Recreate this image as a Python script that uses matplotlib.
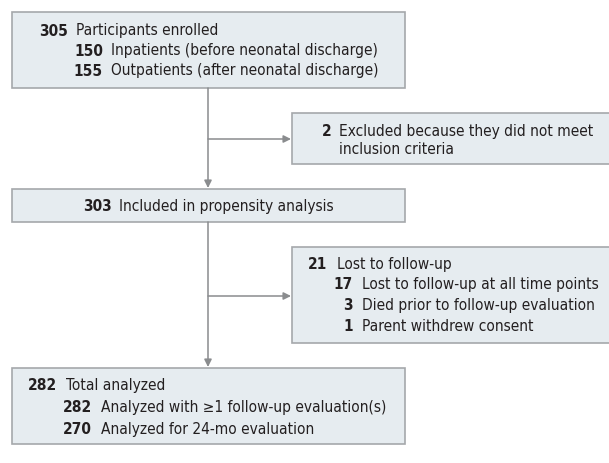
import matplotlib.pyplot as plt
from matplotlib.patches import Rectangle

# flow chart content
mainCounts= ['305', '2', '303', '21', '282']
mainLabels= ['Participants enrolled',
             'Excluded because they did not meet\ninclusion criteria',
             'Included in propensity analysis',
             'Lost to follow-up',
             'Total analyzed']
subCounts= {0: ['150', '155'],
            3: ['17', '3', '1'],
            4: ['282', '270']}
subLabels= {0: ['Inpatients (before neonatal discharge)',
                'Outpatients (after neonatal discharge)'],
            3: ['Lost to follow-up at all time points',
                'Died prior to follow-up evaluation',
                'Parent withdrew consent'],
            4: ['Analyzed with \u22651 follow-up evaluation(s)',
                'Analyzed for 24-mo evaluation']}

fillColor= '#e6ecf0'
edgeColor= '#a5a8ab'
lineColor= '#8a8c8e'
textColor= '#231f20'
fontSize= 11.1
fontFamily= ['DejaVu Sans']
fontStretch= 'condensed'

# box geometry in pixels: x0, y0, x1, y1
boxes= [(12, 13, 405, 89),
        (292, 114, 612, 165),
        (12, 190, 405, 223),
        (292, 248, 612, 344),
        (12, 369, 405, 445)]
# main number right edge, label x, first line y
mainPos= [(68, 76, 31), (332, 339, 132), (112, 119, 207), (327, 337, 265), (57, 66, 386)]
subPos= {0: (103, 111, 51, 20), 3: (353, 362, 285, 21), 4: (92, 101, 408, 21.5)}

fig= plt.figure(figsize=(6.09, 4.64), dpi=100)
ax= fig.add_axes([0, 0, 1, 1])
ax.set_xlim(0, 609)
ax.set_ylim(464, 0)
ax.axis('off')

for x0, y0, x1, y1 in boxes:
    ax.add_patch(Rectangle((x0, y0), x1-x0, y1-y0, facecolor=fillColor,
                           edgecolor=edgeColor, lw=1.2))

def put(xr, xl, y, num, lab):
    ax.text(xr, y, num, ha='right', va='center', fontsize=fontSize,
            fontweight='bold', color=textColor, family=fontFamily,
            fontstretch=fontStretch)
    ax.text(xl, y, lab, ha='left', va='center', fontsize=fontSize,
            color=textColor, family=fontFamily, fontstretch=fontStretch)

for i, (num, lab) in enumerate(zip(mainCounts, mainLabels)):
    xr, xl, y= mainPos[i]
    lines= lab.split('\n')
    put(xr, xl, y, num, lines[0])
    for k, extra in enumerate(lines[1:]):
        ax.text(xl, y+18*(k+1), extra, ha='left', va='center', fontsize=fontSize,
                color=textColor, family=fontFamily, fontstretch=fontStretch)

for key in subCounts:
    xr, xl, y, dy= subPos[key]
    for j, (num, lab) in enumerate(zip(subCounts[key], subLabels[key])):
        put(xr, xl, y+j*dy, num, lab)

# connectors
xc= 208
def arrow(p0, p1):
    ax.annotate('', xy=p1, xytext=p0,
                arrowprops=dict(arrowstyle='-|>', color=lineColor, lw=1.1,
                                mutation_scale=11, shrinkA=0, shrinkB=0))

arrow((xc, 89), (xc, 189))
arrow((xc, 140), (291, 140))
arrow((xc, 223), (xc, 368))
arrow((xc, 297), (291, 297))

fig.savefig('out.png', dpi=100)
